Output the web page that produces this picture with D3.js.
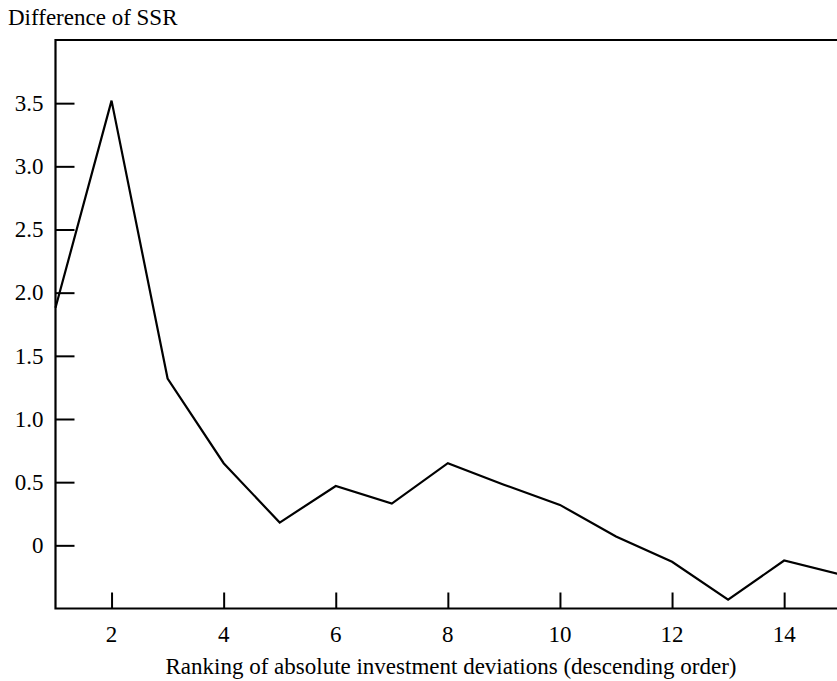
<!DOCTYPE html>
<html><head><meta charset="utf-8">
<script src="https://cdn.jsdelivr.net/npm/d3@7/dist/d3.min.js"></script>
<style>body{margin:0;background:#fff}svg{display:block}</style>
</head><body>
<script>
const ranks = [1,2,3,4,5,6,7,8,9,10,11,12,13,14,15];
const ssrDiff = [1.88,3.52,1.32,0.65,0.18,0.47,0.33,0.65,0.48,0.32,0.07,-0.13,-0.43,-0.12,-0.23];
const yTicks = [0,0.5,1.0,1.5,2.0,2.5,3.0,3.5];
const yTickLabels = ["0","0.5","1.0","1.5","2.0","2.5","3.0","3.5"];
const xTicks = [2,4,6,8,10,12,14];
const yTitle = "Difference of SSR";
const xTitle = "Ranking of absolute investment deviations (descending order)";

const W = 837, H = 681;
const m = {left:55.5, top:40, bottom:608.5};
const font = "'Liberation Serif','Times New Roman',serif";
const fs = 23;
const svg = d3.select("body").append("svg").attr("width",W).attr("height",H);

const x = d3.scaleLinear().domain([1,15]).range([m.left, m.left + 14*56.05]);
const y = d3.scaleLinear().domain([-0.5,4.0]).range([m.bottom, m.top]);

// frame
svg.append("path").attr("d",`M${W+2},${m.top}H${m.left}V${m.bottom}H${W+2}`)
  .attr("fill","none").attr("stroke","#000").attr("stroke-width",2.2);

// y axis
const yAxis = d3.axisRight(y).tickValues(yTicks).tickSize(19).tickFormat("");
const gy = svg.append("g").attr("transform",`translate(${m.left},0)`).call(yAxis);
gy.select(".domain").remove();
gy.selectAll(".tick line").attr("stroke","#000").attr("stroke-width",2);
svg.append("g").selectAll("text").data(yTicks).join("text")
  .attr("x",43.5).attr("y",d=>y(d)).attr("dy","0.34em").attr("text-anchor","end")
  .attr("font-family",font).attr("font-size",fs).text((d,i)=>yTickLabels[i]);

// x axis
const xAxis = d3.axisTop(x).tickValues(xTicks).tickSize(16).tickFormat("");
const gx = svg.append("g").attr("transform",`translate(0,${m.bottom})`).call(xAxis);
gx.select(".domain").remove();
gx.selectAll(".tick line").attr("stroke","#000").attr("stroke-width",2);
svg.append("g").selectAll("text").data(xTicks).join("text")
  .attr("x",d=>x(d)).attr("y",642).attr("text-anchor","middle")
  .attr("font-family",font).attr("font-size",fs).text(d=>d);

// titles
svg.append("text").attr("x",8).attr("y",25).attr("font-family",font).attr("font-size",fs).text(yTitle);
svg.append("text").attr("x",451).attr("y",674).attr("text-anchor","middle")
  .attr("font-family",font).attr("font-size",fs).text(xTitle);

// line
svg.append("path").datum(ranks.map((r,i)=>[r,ssrDiff[i]]))
  .attr("d", d3.line().x(d=>x(d[0])).y(d=>y(d[1])))
  .attr("fill","none").attr("stroke","#000").attr("stroke-width",2.2).attr("stroke-linejoin","miter");
</script>
</body></html>
